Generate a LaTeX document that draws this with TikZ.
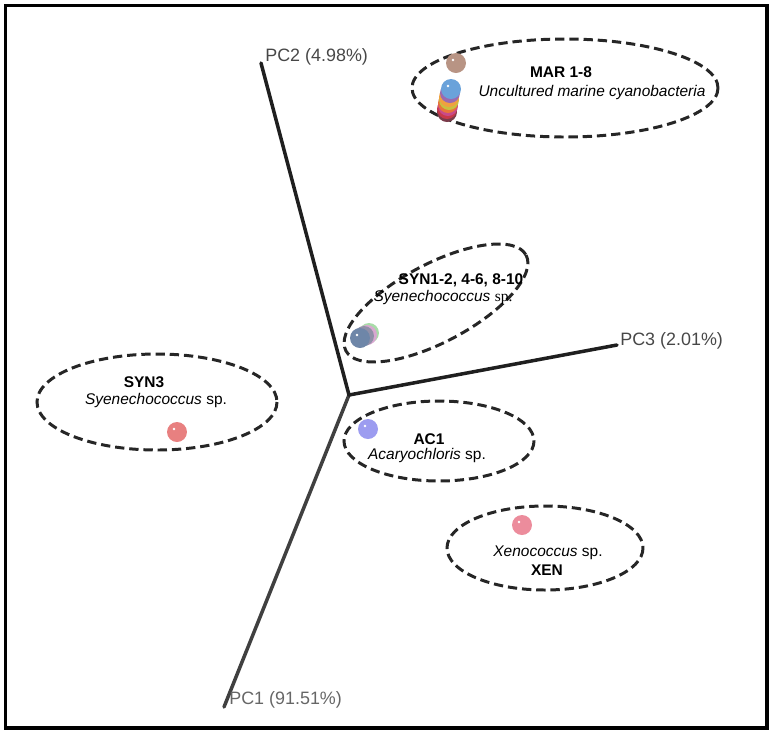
\documentclass[tikz,border=0pt]{standalone}
\usepackage{fontspec}
\setmainfont{Liberation Sans}
\newfontfamily\serifsp{Liberation Serif}
\definecolor{brownspot}{HTML}{B89484}
\definecolor{marA}{HTML}{7A3B4A}
\definecolor{marB}{HTML}{C8384A}
\definecolor{marC}{HTML}{C84A8A}
\definecolor{marD}{HTML}{E8743A}
\definecolor{marE}{HTML}{C8C040}
\definecolor{marF}{HTML}{F0A040}
\definecolor{marG}{HTML}{9A6AB0}
\definecolor{marH}{HTML}{6AA2DA}
\definecolor{synA}{HTML}{A8DCA8}
\definecolor{synB}{HTML}{D8A8D0}
\definecolor{synC}{HTML}{9090A8}
\definecolor{synD}{HTML}{6E86A8}
\definecolor{syn3spot}{HTML}{E88080}
\definecolor{acspot}{HTML}{9C9CF0}
\definecolor{xenspot}{HTML}{EC8C9C}
\begin{document}
\begin{tikzpicture}[x = 0.02cm, y = -0.02cm,
		axis/.style = {line width = 2pt, draw = black!88, line cap = round},
		pclabel/.style = {anchor = west, inner sep = 0pt, text = black!72,
			font = \fontsize{10.2}{12}\selectfont},
		grpring/.style = {draw = black!85, line width = 1.7pt,
			dash pattern = on 5.3pt off 2.8pt},
		grpname/.style = {inner sep = 0pt, font = \fontsize{8.8}{10.5}\selectfont\bfseries},
		grpspecies/.style = {inner sep = 0pt, font = \fontsize{8.8}{10.5}\selectfont},
		spot/.style = {circle, inner sep = 0pt, minimum size = 0.4cm,
			path picture = {\fill[white] ([xshift = -1.7pt, yshift = 1.7pt]
				path picture bounding box.center) circle (0.8pt);}},
		flatspot/.style = {circle, inner sep = 0pt, minimum size = 0.4cm}]

	\useasboundingbox (0,0) rectangle (775,735);
	\draw[line width = 1.8pt] (5.5,5.5) rectangle (767,728);

	% axes
	\coordinate (o) at (349,395);
	\coordinate (e_1) at (224,707);
	\coordinate (e_2) at (261,63);
	\coordinate (e_3) at (617,345);
	\draw[axis, draw = black!75] (o) -- (e_1);
	\draw[axis] (o) -- (e_2);
	\draw[axis] (o) -- (e_3);
	\node [pclabel, text = black!60] (pc_1) at (229,700) {PC1 (91.51\%)};
	\node [pclabel] (pc_2) at (265,57) {PC2 (4.98\%)};
	\node [pclabel] (pc_3) at (620,341) {PC3 (2.01\%)};

	% groups
	\coordinate (g_mar) at (565,88);
	\coordinate (g_syn) at (436,303);
	\coordinate (g_syn3) at (157,402);
	\coordinate (g_ac) at (439,441);
	\coordinate (g_xen) at (545,548);
	\draw[grpring] (g_mar) ellipse [x radius = 153, y radius = 49];
	\draw[grpring, rotate around = {28:(g_syn)}] (g_syn) ellipse [x radius = 102, y radius = 39];
	\draw[grpring] (g_syn3) ellipse [x radius = 120, y radius = 48];
	\draw[grpring] (g_ac) ellipse [x radius = 95, y radius = 40];
	\draw[grpring] (g_xen) ellipse [x radius = 98, y radius = 42];

	\node [grpname] (n_mar) at (561,72) {MAR 1-8};
	\node [grpspecies] (s_mar) at (592,92) {\itshape Uncultured marine cyanobacteria};
	\node [grpname] (n_syn) at (461,280) {SYN1-2, 4-6, 8-10};
	\node [grpspecies] (s_syn) at (443,298) {\textit{Syenechococcus} {\serifsp sp.}};
	\node [grpname] (n_syn3) at (144,382) {SYN3};
	\node [grpspecies] (s_syn3) at (156,400) {\textit{Syenechococcus} sp.};
	\node [grpname] (n_ac) at (429,439) {AC1};
	\node [grpspecies] (s_ac) at (427,455) {\textit{Acaryochloris} sp.};
	\node [grpspecies] (s_xen) at (548,553) {\textit{Xenococcus} sp.};
	\node [grpname] (n_xen) at (547,570) {XEN};

	% samples
	\node [spot, fill = brownspot] (m_0) at (456,63) {};
	\node [flatspot, fill = marA] (m_1) at (447,112) {};
	\node [flatspot, fill = marB] (m_2) at (447,109) {};
	\node [flatspot, fill = marC] (m_3) at (448,106) {};
	\node [flatspot, fill = marD] (m_4) at (448,103) {};
	\node [flatspot, fill = marE] (m_5) at (449,100) {};
	\node [flatspot, fill = marF] (m_6) at (449,97) {};
	\node [flatspot, fill = marG] (m_7) at (450,93) {};
	\node [spot, fill = marH] (m_8) at (451,89) {};

	\node [flatspot, fill = synA] (y_1) at (369,333) {};
	\node [flatspot, fill = synB] (y_2) at (367,335) {};
	\node [flatspot, fill = synC] (y_3) at (364,336) {};
	\node [spot, fill = synD] (y_4) at (360,338) {};

	\node [spot, fill = syn3spot] (y_5) at (177,432) {};
	\node [spot, fill = acspot] (a_1) at (368,429) {};
	\node [spot, fill = xenspot] (x_1) at (522,525) {};
\end{tikzpicture}
\end{document}
